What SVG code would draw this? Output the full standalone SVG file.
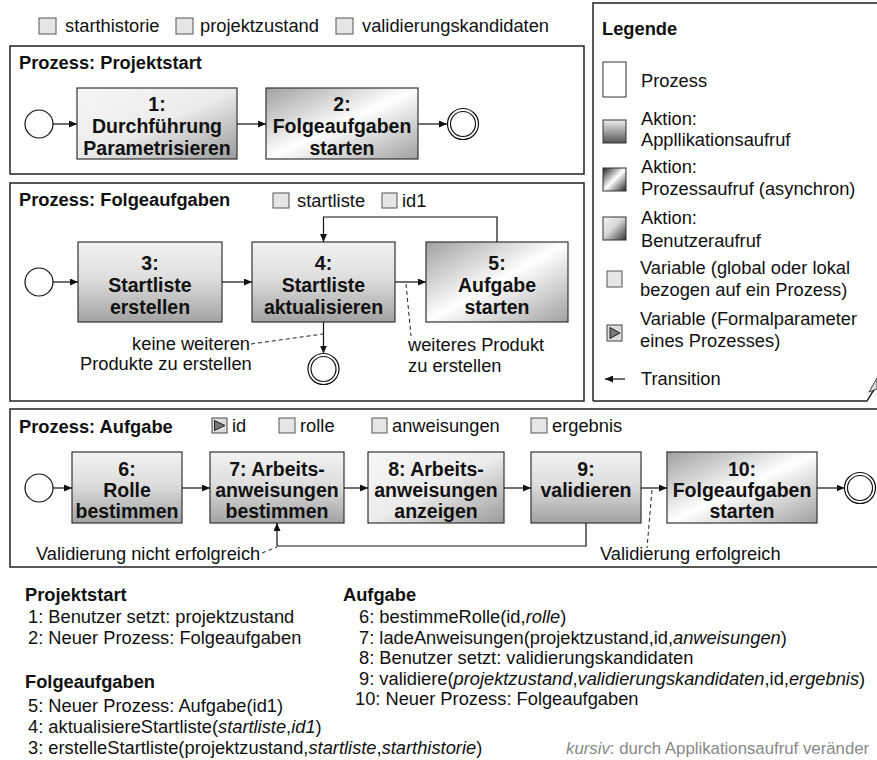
<svg xmlns="http://www.w3.org/2000/svg" width="877" height="760" viewBox="0 0 877 760">
<style>
text{font-family:"Liberation Sans",Arial,sans-serif;fill:#111}
.t{font-size:18.3px}
.h{font-size:18.3px;font-weight:bold}
.n{font-size:19.5px;font-weight:bold;text-anchor:middle}
.box{fill:#fff;stroke:#222;stroke-width:1.5}
.node{stroke:#333;stroke-width:1.2}
.var{fill:#e6e6e6;stroke:#555;stroke-width:1}
.ln{fill:none;stroke:#111;stroke-width:1.2}
.arr{fill:none;stroke:#111;stroke-width:1.2;marker-end:url(#ah)}
.dash{fill:none;stroke:#222;stroke-width:1;stroke-dasharray:4,3}
.circ{fill:#fff;stroke:#111;stroke-width:1.2}
</style>
<defs>
<marker id="ah" markerUnits="userSpaceOnUse" markerWidth="8" markerHeight="7" refX="8" refY="3.5" orient="auto">
<path d="M0,0 L8,3.5 L0,7 z" fill="#111"/>
</marker>
<linearGradient id="gApp" x1="0" y1="0" x2="0" y2="1">
<stop offset="0" stop-color="#f2f2f2"/><stop offset="0.45" stop-color="#dedede"/><stop offset="1" stop-color="#a2a2a2"/>
</linearGradient>
<linearGradient id="gUser" x1="0" y1="0" x2="1" y2="1">
<stop offset="0" stop-color="#f6f6f6"/><stop offset="0.5" stop-color="#ececec"/><stop offset="1" stop-color="#9a9a9a"/>
</linearGradient>
<linearGradient id="gProc" x1="0" y1="0" x2="1" y2="1">
<stop offset="0" stop-color="#a0a0a0"/><stop offset="0.5" stop-color="#ffffff"/><stop offset="1" stop-color="#a0a0a0"/>
</linearGradient>
<linearGradient id="lApp" x1="0" y1="0" x2="0" y2="1">
<stop offset="0" stop-color="#eeeeee"/><stop offset="1" stop-color="#555"/>
</linearGradient>
<linearGradient id="lUser" x1="0" y1="0" x2="1" y2="1">
<stop offset="0" stop-color="#f4f4f4"/><stop offset="0.45" stop-color="#d8d8d8"/><stop offset="1" stop-color="#333"/>
</linearGradient>
<linearGradient id="lProc" x1="0" y1="0" x2="1" y2="1">
<stop offset="0" stop-color="#222"/><stop offset="0.5" stop-color="#ffffff"/><stop offset="1" stop-color="#222"/>
</linearGradient>
</defs>

<!-- global variables -->
<g id="globalvars">
<rect class="var" x="39" y="18" width="17" height="16"/><text class="t" x="65" y="32">starthistorie</text>
<rect class="var" x="176" y="18" width="17" height="16"/><text class="t" x="200" y="32">projektzustand</text>
<rect class="var" x="336" y="18" width="17" height="16"/><text class="t" x="362" y="32">validierungskandidaten</text>
</g>

<!-- legend -->
<g id="legend">
<path d="M593,401 L593,3 L880,3" fill="#fff" stroke="#222" stroke-width="1.5"/>
<path d="M593,401 L867,401 Q872,392 877,386" fill="none" stroke="#222" stroke-width="1.5"/>
<path d="M869,392 L877,378 L877,389 Z" fill="#ddd" stroke="#444" stroke-width="1"/>
<text class="h" x="602" y="35">Legende</text>
<rect x="603" y="62" width="23" height="35" fill="#fff" stroke="#333" stroke-width="1"/>
<text class="t" x="641" y="87">Prozess</text>
<rect x="603" y="120" width="23" height="23" fill="url(#lApp)" stroke="#333" stroke-width="1"/>
<text class="t" x="641" y="125">Aktion:</text>
<text class="t" x="641" y="146">Appllikationsaufruf</text>
<rect x="603" y="168" width="23" height="23" fill="url(#lProc)" stroke="#333" stroke-width="1"/>
<text class="t" x="641" y="173">Aktion:</text>
<text class="t" x="641" y="195">Prozessaufruf (asynchron)</text>
<rect x="603" y="217" width="23" height="23" fill="url(#lUser)" stroke="#333" stroke-width="1"/>
<text class="t" x="641" y="224">Aktion:</text>
<text class="t" x="641" y="247">Benutzeraufruf</text>
<rect class="var" x="607" y="271" width="15" height="16"/>
<text class="t" x="640" y="274">Variable (global oder lokal</text>
<text class="t" x="640" y="296">bezogen auf ein Prozess)</text>
<rect x="607" y="325" width="15" height="16" fill="#ddd" stroke="#444" stroke-width="1"/>
<path d="M610,327.5 L620,333 L610,338.5 Z" fill="#777" stroke="#222" stroke-width="1"/>
<text class="t" x="640" y="325">Variable (Formalparameter</text>
<text class="t" x="640" y="347">eines Prozesses)</text>
<line class="arr" x1="625" y1="379" x2="605" y2="379"/>
<text class="t" x="641" y="385">Transition</text>
</g>

<!-- Process: Projektstart -->
<g id="proc-projektstart">
<rect class="box" x="10" y="46" width="574" height="128"/>
<text class="h" x="19" y="69">Prozess: Projektstart</text>
</g>
<g id="start1"><circle class="circ" cx="39" cy="124" r="14"/></g>
<g id="n1">
<rect class="node" x="77" y="88" width="160" height="71" fill="url(#gUser)"/>
<text class="n" x="157" y="111">1:</text>
<text class="n" x="157" y="133">Durchführung</text>
<text class="n" x="157" y="155">Parametrisieren</text>
</g>
<g id="n2">
<rect class="node" x="266" y="88" width="152" height="71" fill="url(#gProc)"/>
<text class="n" x="342" y="111">2:</text>
<text class="n" x="342" y="133">Folgeaufgaben</text>
<text class="n" x="342" y="155">starten</text>
</g>
<g id="end1"><circle class="circ" cx="463" cy="124" r="15.5"/><circle class="circ" cx="463" cy="124" r="12.5"/></g>

<!-- Process: Folgeaufgaben -->
<g id="proc-folgeaufgaben">
<rect class="box" x="10" y="183" width="574" height="218"/>
<text class="h" x="19" y="206">Prozess: Folgeaufgaben</text>
<rect class="var" x="273" y="193" width="16" height="15"/><text class="t" x="297" y="207">startliste</text>
<rect class="var" x="382" y="193" width="15" height="15"/><text class="t" x="402" y="207">id1</text>
</g>
<g id="start2"><circle class="circ" cx="39" cy="282" r="14"/></g>
<g id="n3">
<rect class="node" x="78" y="242" width="144" height="80" fill="url(#gApp)"/>
<text class="n" x="150" y="270">3:</text>
<text class="n" x="150" y="292">Startliste</text>
<text class="n" x="150" y="314">erstellen</text>
</g>
<g id="n4">
<rect class="node" x="252" y="242" width="143" height="80" fill="url(#gApp)"/>
<text class="n" x="323.5" y="270">4:</text>
<text class="n" x="323.5" y="292">Startliste</text>
<text class="n" x="323.5" y="314">aktualisieren</text>
</g>
<g id="n5">
<rect class="node" x="426" y="242" width="142" height="80" fill="url(#gProc)"/>
<text class="n" x="497" y="270">5:</text>
<text class="n" x="497" y="292">Aufgabe</text>
<text class="n" x="497" y="314">starten</text>
</g>
<g id="end2"><circle class="circ" cx="323.5" cy="369" r="15.5"/><circle class="circ" cx="323.5" cy="369" r="12.5"/></g>

<!-- Process: Aufgabe -->
<g id="proc-aufgabe">
<rect class="box" x="10" y="409" width="880" height="158"/>
<text class="h" x="19" y="433">Prozess: Aufgabe</text>
<rect x="212" y="418" width="15" height="15" fill="#ddd" stroke="#444" stroke-width="1"/>
<path d="M214.5,420.5 L225,425.5 L214.5,430.5 Z" fill="#777" stroke="#222" stroke-width="1"/>
<text class="t" x="232" y="432">id</text>
<rect class="var" x="279" y="418" width="16" height="15"/><text class="t" x="300" y="432">rolle</text>
<rect class="var" x="372" y="418" width="15" height="15"/><text class="t" x="392" y="432">anweisungen</text>
<rect class="var" x="531" y="418" width="16" height="15"/><text class="t" x="552" y="432">ergebnis</text>
</g>
<g id="start3"><circle class="circ" cx="39" cy="488" r="14"/></g>
<g id="n6">
<rect class="node" x="72" y="452" width="110" height="71" fill="url(#gApp)"/>
<text class="n" x="127" y="476">6:</text>
<text class="n" x="127" y="497">Rolle</text>
<text class="n" x="127" y="518">bestimmen</text>
</g>
<g id="n7">
<rect class="node" x="210" y="452" width="134" height="71" fill="url(#gApp)"/>
<text class="n" x="277" y="476">7: Arbeits-</text>
<text class="n" x="277" y="497">anweisungen</text>
<text class="n" x="277" y="518">bestimmen</text>
</g>
<g id="n8">
<rect class="node" x="368" y="452" width="136" height="71" fill="url(#gUser)"/>
<text class="n" x="436" y="476">8: Arbeits-</text>
<text class="n" x="436" y="497">anweisungen</text>
<text class="n" x="436" y="518">anzeigen</text>
</g>
<g id="n9">
<rect class="node" x="531" y="452" width="110" height="71" fill="url(#gApp)"/>
<text class="n" x="586" y="476">9:</text>
<text class="n" x="586" y="497">validieren</text>
</g>
<g id="n10">
<rect class="node" x="667" y="452" width="150" height="71" fill="url(#gProc)"/>
<text class="n" x="742" y="476">10:</text>
<text class="n" x="742" y="497">Folgeaufgaben</text>
<text class="n" x="742" y="518">starten</text>
</g>
<g id="end3"><circle class="circ" cx="860" cy="488" r="15.5"/><circle class="circ" cx="860" cy="488" r="12.5"/></g>

<!-- connectors -->
<g id="connectors">
<line class="arr" x1="53" y1="124" x2="77" y2="124"/>
<line class="arr" x1="237" y1="124" x2="266" y2="124"/>
<line class="arr" x1="418" y1="124" x2="447" y2="124"/>

<line class="arr" x1="53" y1="282" x2="78" y2="282"/>
<line class="arr" x1="222" y1="282" x2="252" y2="282"/>
<line class="arr" x1="395" y1="282" x2="426" y2="282"/>
<polyline class="arr" points="497,242 497,217 323.5,217 323.5,242"/>
<line class="arr" x1="323.5" y1="322" x2="323.5" y2="353.5"/>
<path class="dash" d="M251,344 L323,334"/>
<path class="dash" d="M406,284 L411,336"/>

<line class="arr" x1="53" y1="488" x2="72" y2="488"/>
<line class="arr" x1="182" y1="488" x2="210" y2="488"/>
<line class="arr" x1="344" y1="488" x2="368" y2="488"/>
<line class="arr" x1="504" y1="488" x2="531" y2="488"/>
<line class="arr" x1="641" y1="488" x2="667" y2="488"/>
<line class="arr" x1="817" y1="488" x2="844.5" y2="488"/>
<polyline class="arr" points="586,523 586,546 277,546 277,523"/>
<path class="dash" d="M262,553 L277,547"/>
<path class="dash" d="M652,490 L647,548"/>
</g>

<!-- connector labels -->
<g id="labels">
<text class="t" x="250" y="350" text-anchor="end">keine weiteren</text>
<text class="t" x="80" y="370">Produkte zu erstellen</text>
<text class="t" x="408" y="351">weiteres Produkt</text>
<text class="t" x="408" y="372">zu erstellen</text>
<text class="t" x="36" y="560">Validierung nicht erfolgreich</text>
<text class="t" x="600" y="560">Validierung erfolgreich</text>
</g>

<!-- notes -->
<g id="notes">
<text class="h" x="25" y="601">Projektstart</text>
<text class="t" x="28" y="623">1: Benutzer setzt: projektzustand</text>
<text class="t" x="28" y="644">2: Neuer Prozess: Folgeaufgaben</text>
<text class="h" x="25" y="688">Folgeaufgaben</text>
<text class="t" x="28" y="712">5: Neuer Prozess: Aufgabe(id1)</text>
<text class="t" x="28" y="733">4: aktualisiereStartliste(<tspan font-style="italic">startliste</tspan>,<tspan font-style="italic">id1</tspan>)</text>
<text class="t" x="28" y="754">3: erstelleStartliste(projektzustand,<tspan font-style="italic">startliste</tspan>,<tspan font-style="italic">starthistorie</tspan>)</text>
<text class="h" x="343" y="601">Aufgabe</text>
<text class="t" x="359" y="623">6: bestimmeRolle(id,<tspan font-style="italic">rolle</tspan>)</text>
<text class="t" x="359" y="644">7: ladeAnweisungen(projektzustand,id,<tspan font-style="italic">anweisungen</tspan>)</text>
<text class="t" x="359" y="664">8: Benutzer setzt: validierungskandidaten</text>
<text class="t" x="359" y="685">9: validiere(<tspan font-style="italic">projektzustand</tspan>,<tspan font-style="italic">validierungskandidaten</tspan>,id,<tspan font-style="italic">ergebnis</tspan>)</text>
<text class="t" x="355" y="705">10: Neuer Prozess: Folgeaufgaben</text>
<text x="566" y="754" style="fill:#888;font-size:16.8px"><tspan font-style="italic">kursiv</tspan>: durch Applikationsaufruf veränder</text>
</g>
</svg>
